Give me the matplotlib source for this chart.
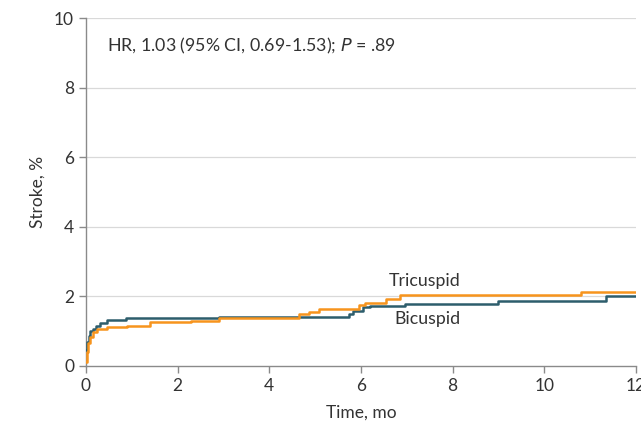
import matplotlib
matplotlib.use("Agg")
import matplotlib.pyplot as plt

# Data (months, cumulative stroke %)
bi_t = [0, 0.03, 0.06, 0.10, 0.15, 0.22, 0.30, 0.45, 0.88, 2.9, 5.74, 5.82, 6.04, 6.2, 6.96, 9.0, 11.35, 12.0]
bi_v = [0.46, 0.70, 0.87, 1.00, 1.06, 1.16, 1.23, 1.33, 1.37, 1.42, 1.50, 1.58, 1.70, 1.72, 1.79, 1.87, 2.00, 2.00]
tri_t = [0, 0.02, 0.05, 0.10, 0.15, 0.25, 0.45, 0.9, 1.4, 2.3, 2.9, 4.65, 4.87, 5.09, 5.96, 6.1, 6.55, 6.85, 10.8, 12.0]
tri_v = [0.10, 0.40, 0.65, 0.84, 0.98, 1.06, 1.12, 1.16, 1.26, 1.30, 1.38, 1.50, 1.55, 1.65, 1.74, 1.81, 1.91, 2.03, 2.12, 2.12]
x_ticks = [0, 2, 4, 6, 8, 10, 12]
y_ticks = [0, 2, 4, 6, 8, 10]

plt.rcParams['font.family'] = ['Lato', 'DejaVu Sans']
txt = '#333333'
teal = '#2d5d6c'
orange = '#f7941d'

fig = plt.figure(figsize=(6.41, 4.23), dpi=100)
ax = fig.add_axes([0.134, 0.135, 0.858, 0.822])
ax.set_xlim(0, 12)
ax.set_ylim(0, 10)

for y in y_ticks[1:]:
    ax.axhline(y, color='#d9d9d9', lw=0.9, zorder=0)

ax.step(bi_t, bi_v, where='post', color=teal, lw=1.8, zorder=3)
ax.step(tri_t, tri_v, where='post', color=orange, lw=1.8, zorder=4)

for s in ['top', 'right']:
    ax.spines[s].set_visible(False)
for s in ['left', 'bottom']:
    ax.spines[s].set_color('#8a8a8a')
    ax.spines[s].set_linewidth(1.0)

ax.set_xticks(x_ticks)
ax.set_yticks(y_ticks)
ax.tick_params(axis='both', colors='#8a8a8a', labelcolor=txt, labelsize=12.5, length=5, width=1.0)
ax.set_xticklabels([str(v) for v in x_ticks])
ax.set_yticklabels([str(v) for v in y_ticks])

ax.set_xlabel('Time, mo', fontsize=12.5, color=txt, labelpad=8)
ax.set_ylabel('Stroke, %', fontsize=12.5, color=txt, labelpad=6)

ax.text(0.45, 9.2, r'HR, 1.03 (95% CI, 0.69-1.53); $\it{P}$ = .89', fontsize=12.8, color=txt, va='center', ha='left')
ax.text(7.4, 2.45, 'Tricuspid', fontsize=12.8, color=txt, ha='center', va='center')
ax.text(7.45, 1.35, 'Bicuspid', fontsize=12.8, color=txt, ha='center', va='center')

fig.savefig('out.png', dpi=100)
